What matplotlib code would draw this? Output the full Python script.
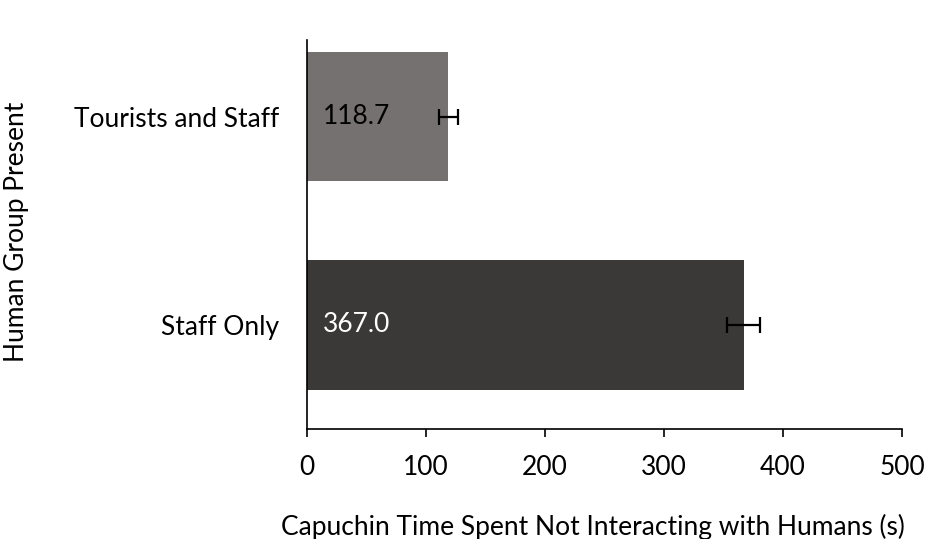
import matplotlib
matplotlib.use("Agg")
import matplotlib.pyplot as plt

plt.rcParams['font.family'] = ['Lato', 'DejaVu Sans']

# Mean time (s) per human group, with error bar half-widths
groups = ['Staff Only', 'Tourists and Staff']
means = [367.0, 118.7]
errors = [14.0, 8.0]
bar_colors = ['#3b3838', '#767171']
label_colors = ['white', 'black']
x_ticks = [0, 100, 200, 300, 400, 500]

fs = 19

fig = plt.figure(figsize=(9.28, 5.39), dpi=100)
ax = fig.add_axes([0.3308, 0.204, 0.972 - 0.3308, 0.926 - 0.204])

pos = list(range(len(groups)))
ax.barh(pos, means, height=0.62, color=bar_colors, zorder=2)
ax.errorbar(means, pos, xerr=errors, fmt='none', ecolor='black',
            elinewidth=1.6, capsize=6, capthick=1.6, zorder=3)

for p, m, c in zip(pos, means, label_colors):
    ax.text(13, p, f'{m:.1f}', color=c, fontsize=fs,
            va='center', ha='left', zorder=4)

ax.set_xlim(0, 500)
ax.set_ylim(-0.5, 1.37)
ax.set_xticks(x_ticks)
ax.set_yticks(pos)
ax.set_yticklabels(groups)
ax.tick_params(axis='x', labelsize=fs, length=6, width=1.2, pad=13)
ax.tick_params(axis='y', labelsize=fs, length=0, pad=20)

for side in ['top', 'right']:
    ax.spines[side].set_visible(False)
ax.spines['left'].set_linewidth(1.2)
ax.spines['bottom'].set_linewidth(1.2)

fig.text(0.639, 0.022, 'Capuchin Time Spent Not Interacting with Humans (s)',
         fontsize=fs, va='center', ha='center')
fig.text(0.0183, 0.57, 'Human Group Present', rotation=90,
         fontsize=fs, va='center', ha='center')

fig.savefig('out.png', dpi=100)
